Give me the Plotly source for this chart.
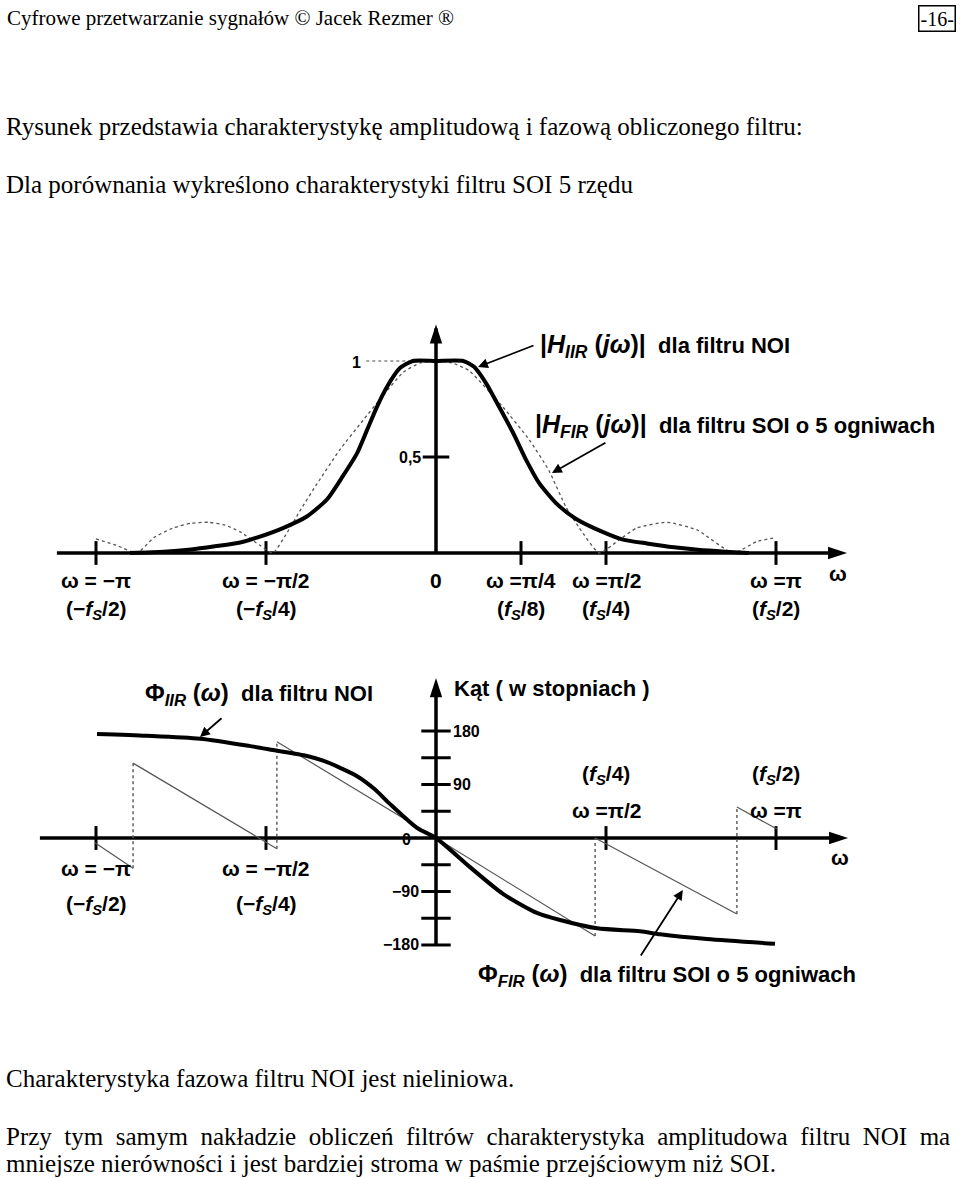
import plotly.graph_objects as go

W, H = 960, 1178

# ---------------- data (frequency in units of pi) ----------------
iir_mag_w = [-0.90, -0.80, -0.72, -0.65, -0.576, -0.527, -0.45, -0.38, -0.32, -0.274, -0.232,
             -0.203, -0.174, -0.144, -0.106, -0.068, 0.0, 0.08, 0.112, 0.147, 0.186, 0.227,
             0.265, 0.303, 0.353, 0.41, 0.49, 0.55, 0.62, 0.70, 0.77, 0.85, 0.92]
iir_mag = [0.0, 0.006, 0.018, 0.035, 0.055, 0.08, 0.13, 0.19, 0.28, 0.40, 0.52,
           0.64, 0.76, 0.866, 0.963, 1.0, 1.0, 1.0, 0.97, 0.885, 0.76, 0.625,
           0.485, 0.365, 0.26, 0.18, 0.11, 0.07, 0.05, 0.03, 0.017, 0.007, 0.0]

fir_mag_w = [-1.0, -0.94, -0.879, -0.83, -0.774, -0.72, -0.67, -0.62, -0.576, -0.518, -0.48,
             -0.44, -0.40, -0.35, -0.282, -0.215, -0.165, -0.097, -0.047, 0.0, 0.047, 0.097,
             0.197, 0.274, 0.332, 0.382, 0.42, 0.48, 0.54, 0.59, 0.68, 0.768, 0.874,
             0.944, 1.0]
fir_mag = [0.073, 0.04, 0.0, 0.08, 0.13, 0.155, 0.16, 0.145, 0.11, 0.04, 0.0,
           0.10, 0.22, 0.36, 0.54, 0.69, 0.80, 0.94, 0.99, 1.0, 0.99, 0.95,
           0.76, 0.59, 0.43, 0.24, 0.135, 0.0, 0.07, 0.13, 0.16, 0.12, 0.0,
           0.06, 0.08]

iir_ph_w = [-0.997, -0.85, -0.694, -0.55, -0.479, -0.379, -0.332, -0.282, -0.232, -0.18,
            -0.135, -0.056, 0.0, 0.10, 0.197, 0.297, 0.365, 0.474, 0.60, 0.659, 0.797, 0.997]
iir_ph = [175, 172, 167, 155, 148, 138, 130, 118, 104, 82,
          57, 17, 0, -49, -94, -126, -138, -152, -157, -162, -170, -178]

fir_ph_w = [-1.003, -0.891, -0.891, -0.468, -0.468, 0.0, 0.468, 0.468, 0.885, 0.885, 1.003]
fir_ph = [-8, -51, 126, -18, 162, 0, -165, 0, -128, 52, 15]

# axis ticks and labels
top_ticks = [-1.0, -0.5, 0.25, 0.5, 1.0]
top_tick_w = ["ω = −π", "ω = −π/2", "ω =π/4", "ω =π/2", "ω =π"]
top_tick_f = ["(−<i>f</i><sub><i>S</i></sub>/2)", "(−<i>f</i><sub><i>S</i></sub>/4)",
              "(<i>f</i><sub><i>S</i></sub>/8)", "(<i>f</i><sub><i>S</i></sub>/4)",
              "(<i>f</i><sub><i>S</i></sub>/2)"]
top_yticks = [0.5]
top_ytick_labels = ["0,5"]
ref_level = 1.0

bot_ticks = [-1.0, -0.5, 0.5, 1.0]
bot_tick_w = ["ω = −π", "ω = −π/2", "ω =π/2", "ω =π"]
bot_tick_f = ["(−<i>f</i><sub><i>S</i></sub>/2)", "(−<i>f</i><sub><i>S</i></sub>/4)",
              "(<i>f</i><sub><i>S</i></sub>/4)", "(<i>f</i><sub><i>S</i></sub>/2)"]
bot_yticks = [-180, -135, -90, -45, 45, 90, 135, 180]
bot_ylabels = {180: "180", 90: "90", 0: "0", -90: "−90", -180: "−180"}

# ---------------- geometry helpers ----------------
X0, XS = 436, 340          # pixel of w=0, pixels per pi
Y0T, YST = 553, 192        # top chart: pixel of 0, pixels per unit
Y0B, YSB = 838, 0.5944     # bottom chart: pixel of 0 deg, pixels per degree


def px(x):
    return x / W


def py(y):
    return 1 - y / H


SERIF = "Liberation Serif, Times New Roman, serif"
SANS = "Liberation Sans, Arial, sans-serif"
BLACK = "#000000"

fig = go.Figure()

# ---------------- top chart ----------------
fig.add_trace(go.Scatter(x=[-0.205, -0.08], y=[ref_level, ref_level], mode="lines",
                         line=dict(color="#888", width=1.5, dash="dot"), yaxis="y"))
fig.add_trace(go.Scatter(x=[-1.115, 1.19], y=[0, 0], mode="lines",
                         line=dict(color=BLACK, width=3.5), yaxis="y"))
fig.add_trace(go.Scatter(x=[0, 0], y=[0, 1.17], mode="lines",
                         line=dict(color=BLACK, width=3.5), yaxis="y"))
fig.add_trace(go.Scatter(x=[1.209], y=[0], mode="markers", yaxis="y",
                         marker=dict(symbol="arrow", angle=90, size=20, color=BLACK)))
fig.add_trace(go.Scatter(x=[0], y=[1.19], mode="markers", yaxis="y",
                         marker=dict(symbol="arrow", angle=0, size=20, color=BLACK)))
fig.add_trace(go.Scatter(x=top_ticks, y=[0] * len(top_ticks), mode="markers", yaxis="y",
                         marker=dict(symbol="line-ns", size=17,
                                     line=dict(color=BLACK, width=3))))
fig.add_trace(go.Scatter(x=[0] * len(top_yticks), y=top_yticks, mode="markers", yaxis="y",
                         marker=dict(symbol="line-ew", size=19,
                                     line=dict(color=BLACK, width=3))))
fig.add_trace(go.Scatter(x=fir_mag_w, y=fir_mag, mode="lines", yaxis="y",
                         line=dict(color="#555", width=1.3, dash="dot", shape="spline",
                                   smoothing=0.5)))
fig.add_trace(go.Scatter(x=iir_mag_w, y=iir_mag, mode="lines", yaxis="y",
                         line=dict(color=BLACK, width=4, shape="spline", smoothing=0.6)))

# ---------------- bottom chart ----------------
fig.add_trace(go.Scatter(x=[-1.165, 1.19], y=[0, 0], mode="lines", yaxis="y2",
                         line=dict(color=BLACK, width=3.5)))
fig.add_trace(go.Scatter(x=[0, 0], y=[-180, 255], mode="lines", yaxis="y2",
                         line=dict(color=BLACK, width=3.5)))
fig.add_trace(go.Scatter(x=[1.212], y=[0], mode="markers", yaxis="y2",
                         marker=dict(symbol="arrow", angle=90, size=20, color=BLACK)))
fig.add_trace(go.Scatter(x=[0], y=[269], mode="markers", yaxis="y2",
                         marker=dict(symbol="arrow", angle=0, size=20, color=BLACK)))
fig.add_trace(go.Scatter(x=bot_ticks, y=[0] * len(bot_ticks), mode="markers", yaxis="y2",
                         marker=dict(symbol="line-ns", size=17,
                                     line=dict(color=BLACK, width=3))))
fig.add_trace(go.Scatter(x=[0] * len(bot_yticks), y=bot_yticks, mode="markers", yaxis="y2",
                         marker=dict(symbol="line-ew", size=21,
                                     line=dict(color=BLACK, width=3))))

slope_x, slope_y, jump_x, jump_y = [], [], [], []
for i in range(len(fir_ph_w) - 1):
    seg_x = [fir_ph_w[i], fir_ph_w[i + 1], None]
    seg_y = [fir_ph[i], fir_ph[i + 1], None]
    if fir_ph_w[i] == fir_ph_w[i + 1]:
        jump_x += seg_x
        jump_y += seg_y
    else:
        slope_x += seg_x
        slope_y += seg_y
fig.add_trace(go.Scatter(x=jump_x, y=jump_y, mode="lines", yaxis="y2",
                         line=dict(color="#555", width=1.4, dash="dot")))
fig.add_trace(go.Scatter(x=slope_x, y=slope_y, mode="lines", yaxis="y2",
                         line=dict(color="#555", width=1.2)))
fig.add_trace(go.Scatter(x=iir_ph_w, y=iir_ph, mode="lines", yaxis="y2",
                         line=dict(color=BLACK, width=4, shape="spline", smoothing=0.7)))

# ---------------- annotations ----------------
ann = []


def text(x, y, t, size=21, family=SANS, xanchor="center", bold=True, **kw):
    d = dict(x=x, y=y, xref=kw.pop("xref", "paper"), yref="paper",
             text=(f"<b>{t}</b>" if bold else t),
             showarrow=False, xanchor=xanchor, yanchor="middle",
             font=dict(family=family, size=size, color=BLACK))
    d.update(kw)
    ann.append(d)


def big(t, size=25):
    return f"<span style='font-size:{size}px'>{t}</span>"


# page text
text(px(5), py(18), "Cyfrowe przetwarzanie sygnałów © Jacek Rezmer ®", size=21,
     family=SERIF, xanchor="left", bold=False)
ann.append(dict(x=px(937), y=py(18), xref="paper", yref="paper", text="-16-", showarrow=False,
                font=dict(family=SERIF, size=20, color=BLACK), bordercolor=BLACK,
                borderwidth=1.5, borderpad=1, xanchor="center", yanchor="middle"))
text(px(4), py(127), "Rysunek przedstawia charakterystykę amplitudową i fazową obliczonego filtru:",
     size=25, family=SERIF, xanchor="left", bold=False)
text(px(4), py(184), "Dla porównania wykreślono charakterystyki filtru SOI 5 rzędu",
     size=25, family=SERIF, xanchor="left", bold=False)
text(px(4), py(1078), "Charakterystyka fazowa filtru NOI jest nieliniowa.",
     size=25, family=SERIF, xanchor="left", bold=False)
NB = "\u00a0\u00a0"
text(px(4), py(1136), NB.join("Przy tym samym nakładzie obliczeń filtrów charakterystyka "
                              "amplitudowa filtru NOI ma".split(" ")),
     size=25, family=SERIF, xanchor="left", bold=False)
text(px(4), py(1163), "mniejsze nierówności i jest bardziej stroma w paśmie przejściowym niż SOI.",
     size=25, family=SERIF, xanchor="left", bold=False)

# top chart labels
for t, w_lab, f_lab in zip(top_ticks, top_tick_w, top_tick_f):
    text(t, py(580), w_lab, xref="x")
    text(t, py(610), f_lab, xref="x")
text(0, py(580), "0", xref="x")
text(px(838), py(573), "ω")
text(px(356), py(362), "1", size=16)
for v, lab in zip(top_yticks, top_ytick_labels):
    ann.append(dict(x=px(423), y=v, xref="paper", yref="y", text=f"<b>{lab}</b>", showarrow=False,
                    xanchor="right", yanchor="middle", font=dict(family=SANS, size=16, color=BLACK)))
text(px(538), py(346),
     big("|<i>H</i><sub><i>IIR</i></sub> (<i>jω</i>)|") + "  dla filtru NOI", size=22,
     xanchor="left")
text(px(533), py(426),
     big("|<i>H</i><sub><i>FIR</i></sub> (<i>jω</i>)|") + "  dla filtru SOI o 5 ogniwach",
     size=22, xanchor="left")

# bottom chart labels
for t, w_lab, f_lab in zip(bot_ticks, bot_tick_w, bot_tick_f):
    if t < 0:
        text(t, py(868), w_lab, xref="x")
        text(t, py(905), f_lab, xref="x")
    else:
        text(t, py(775), f_lab, xref="x")
        text(t, py(810), w_lab, xref="x")
text(px(840), py(857), "ω")
for v, lab in bot_ylabels.items():
    if v > 0:
        ann.append(dict(x=px(451), y=v, xref="paper", yref="y2", text=f"<b>{lab}</b>",
                        showarrow=False, xanchor="left", yanchor="middle",
                        font=dict(family=SANS, size=16, color=BLACK)))
    else:
        ann.append(dict(x=px(421 if v < 0 else 413), y=v - (0 if v < 0 else 3), xref="paper",
                        yref="y2", text=f"<b>{lab}</b>", showarrow=False, xanchor="right",
                        yanchor="middle", font=dict(family=SANS, size=16, color=BLACK)))
text(px(143), py(694), big("Φ<sub><i>IIR</i></sub> (<i>ω</i>)", 24) + "  dla filtru NOI",
     size=22, xanchor="left")
text(px(452), py(688), "Kąt ( w stopniach )", size=22, xanchor="left")
text(px(476), py(975), big("Φ<sub><i>FIR</i></sub> (<i>ω</i>)", 24)
     + "  dla filtru SOI o 5 ogniwach", size=22, xanchor="left")

# pointer arrows
arrow_style = dict(showarrow=True, arrowhead=2, arrowsize=1.1, arrowwidth=1.8,
                   arrowcolor=BLACK, text="", standoff=0)
ann.append(dict(x=0.1235, y=0.969, xref="x", yref="y", ax=57, ay=-22, **arrow_style))
ann.append(dict(x=0.341, y=0.417, xref="x", yref="y", ax=55, ay=-31, **arrow_style))
ann.append(dict(x=-0.694, y=170, xref="x", yref="y2", ax=23, ay=-20, **arrow_style))
ann.append(dict(x=0.726, y=-87.5, xref="x", yref="y2", ax=-43, ay=67, **arrow_style))

fig.update_layout(
    width=W, height=H, margin=dict(l=0, r=0, t=0, b=0),
    paper_bgcolor="white", plot_bgcolor="white", showlegend=False,
    xaxis=dict(visible=False, range=[-X0 / XS, (W - X0) / XS], domain=[0, 1], fixedrange=True),
    yaxis=dict(visible=False, range=[(Y0T - H) / YST, Y0T / YST], domain=[0, 1], fixedrange=True),
    yaxis2=dict(visible=False, range=[(Y0B - H) / YSB, Y0B / YSB], domain=[0, 1],
                overlaying="y", fixedrange=True),
    annotations=ann,
)

fig.write_html("out.html", config={"displayModeBar": False})
